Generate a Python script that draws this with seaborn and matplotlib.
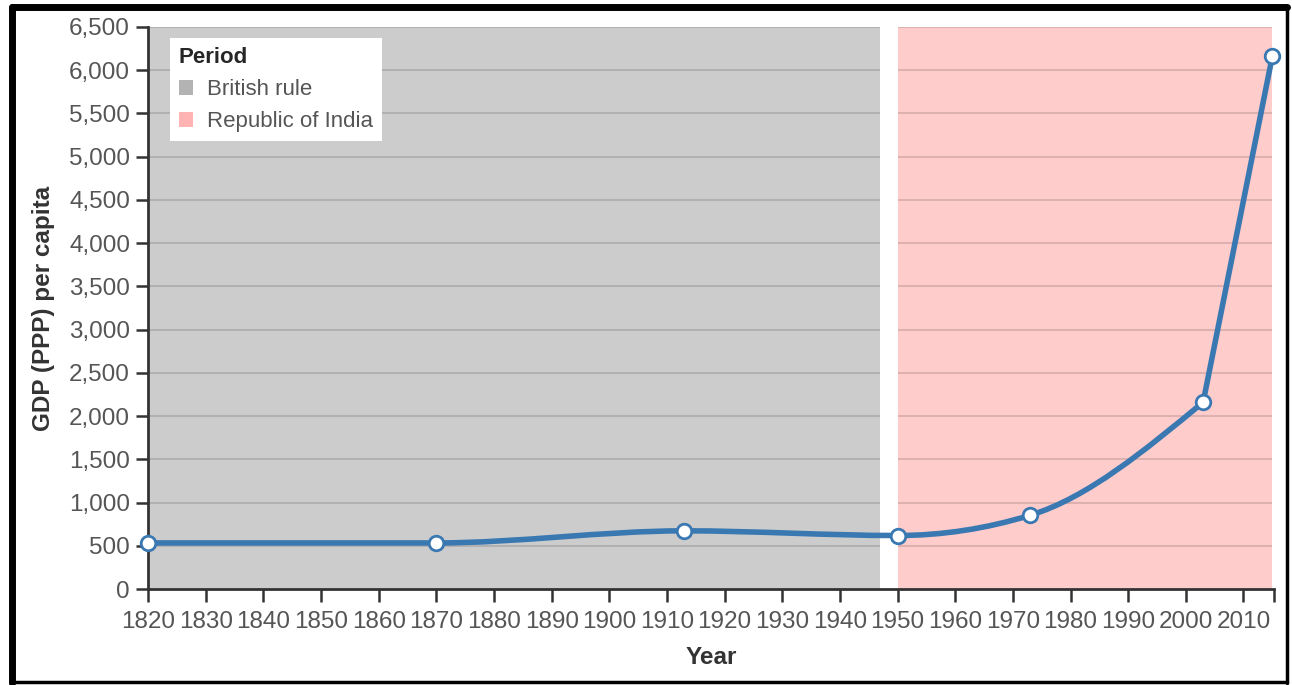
import numpy as np
import matplotlib
matplotlib.use('Agg')
import matplotlib.pyplot as plt
import seaborn as sns
from matplotlib.path import Path
from matplotlib.patches import PathPatch, Patch
from matplotlib.ticker import FuncFormatter

# data
years = [1820, 1870, 1913, 1950, 1973, 2003, 2015]
gdp = [533, 533, 673, 619, 853, 2160, 6160]
periods = ['British rule', 'Republic of India']
period_start = [1820, 1950]
period_end = [1947, 2015]
period_colors = ['#cccccc', '#ffcccc']
legend_colors = ['#b3b3b3', '#ffb3b3']
x_ticks = list(range(1820, 2011, 10))
y_ticks = list(range(0, 6501, 500))

sns.set_style('ticks')
plt.rcParams['font.family'] = ['Liberation Sans', 'DejaVu Sans']


def monotone_path(x, y):
    # monotone cubic curve (like d3 curveMonotoneX) as bezier segments
    x = np.asarray(x, float)
    y = np.asarray(y, float)
    h = np.diff(x)
    s = np.diff(y) / h
    n = len(x)
    t = np.zeros(n)
    for i in range(1, n - 1):
        p = (s[i - 1] * h[i] + s[i] * h[i - 1]) / (h[i - 1] + h[i])
        t[i] = (np.sign(s[i - 1]) + np.sign(s[i])) * min(abs(s[i - 1]), abs(s[i]), 0.5 * abs(p))
    t[0] = (3 * s[0] - t[1]) / 2
    t[-1] = (3 * s[-1] - t[-2]) / 2
    verts = [(x[0], y[0])]
    codes = [Path.MOVETO]
    for i in range(n - 1):
        d = h[i] / 3
        verts += [(x[i] + d, y[i] + t[i] * d), (x[i + 1] - d, y[i + 1] - t[i + 1] * d), (x[i + 1], y[i + 1])]
        codes += [Path.CURVE4] * 3
    return Path(verts, codes)


fig = plt.figure(figsize=(12.92, 6.85), dpi=100)
ax = fig.add_axes([0.1146, 0.1401, 0.8715, 0.8205])

for start, end, col in zip(period_start, period_end, period_colors):
    ax.axvspan(start, end, color=col, lw=0, zorder=0)
    ax.hlines(y_ticks[1:], start, end, color='black', alpha=0.13, lw=1.5, zorder=1)

# smooth curve up to 2003, then the steep last stretch
line_kw = dict(fill=False, edgecolor='#3a78b2', lw=4, zorder=3, capstyle='round', joinstyle='round')
ax.add_patch(PathPatch(monotone_path(years[:-1], gdp[:-1]), **line_kw))
ax.add_patch(PathPatch(Path(list(zip(years[-2:], gdp[-2:]))), **line_kw))
sns.scatterplot(x=years, y=gdp, ax=ax, s=110, color='white', edgecolor='#3a78b2',
                linewidth=2, zorder=4, clip_on=False)

ax.set_xlim(1820, 2015.3)
ax.set_ylim(0, 6500)
ax.set_xticks(x_ticks)
ax.set_xticks([2015.3], minor=True)
ax.set_yticks(y_ticks)
ax.yaxis.set_major_formatter(FuncFormatter(lambda v, p: f'{int(v):,}'))
ax.tick_params(axis='both', which='both', length=9, width=1.8, color='#333333',
               labelsize=17.5, labelcolor='#555555', pad=4)
ax.tick_params(axis='x', pad=7)
sns.despine(ax=ax)
for sp in ['left', 'bottom']:
    ax.spines[sp].set_color('#333333')
    ax.spines[sp].set_linewidth(2)

ax.set_xlabel('Year', fontsize=17.5, fontweight='bold', color='#333333', labelpad=9)
ax.set_ylabel('GDP (PPP) per capita', fontsize=17.5, fontweight='bold', color='#333333', labelpad=10)

handles = [Patch(facecolor=c, edgecolor='none') for c in legend_colors]
leg = ax.legend(handles, periods, title='Period', loc='upper left', bbox_to_anchor=(0.0195, 0.9804),
                borderaxespad=0, frameon=True, fancybox=False, fontsize=16, title_fontsize=16,
                handlelength=0.65, handleheight=0.65, handletextpad=0.6, labelspacing=0.5,
                borderpad=0.4, alignment='left')
leg.get_title().set_fontweight('bold')
leg.get_frame().set_edgecolor('none')
leg.get_frame().set_facecolor('white')
leg.get_frame().set_alpha(1)
for txt in leg.get_texts():
    txt.set_color('#555555')

# outer frame
fig.add_artist(plt.Line2D([0.009, 0.009], [0.003, 0.99], color='black', lw=5, transform=fig.transFigure))
fig.add_artist(plt.Line2D([0.009, 0.996], [0.99, 0.99], color='black', lw=5, transform=fig.transFigure))
fig.add_artist(plt.Line2D([0.996, 0.996], [0.003, 0.99], color='black', lw=2.5, transform=fig.transFigure))
fig.add_artist(plt.Line2D([0.009, 0.996], [0.005, 0.005], color='black', lw=2.5, transform=fig.transFigure))

fig.savefig('out.png', dpi=100)
